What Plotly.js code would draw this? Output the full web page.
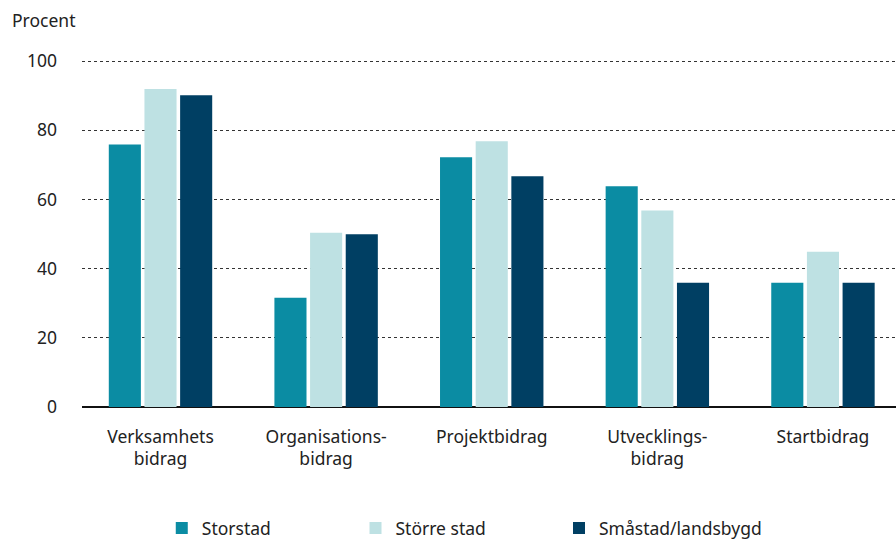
<!DOCTYPE html>
<html>
<head>
<meta charset="utf-8">
<script src="https://cdn.plot.ly/plotly-3.0.1.min.js"></script>
<style>html,body{margin:0;padding:0;background:#fff;}#chart{width:896px;height:540px;}</style>
</head>
<body>
<div id="chart"></div>
<script>
const categories = ["Verksamhets<br>bidrag", "Organisations-<br>bidrag", "Projektbidrag", "Utvecklings-<br>bidrag", "Startbidrag"];
const seriesNames = ["Storstad", "Större stad", "Småstad/landsbygd"];
const storstad = [75.9, 31.6, 72.2, 63.8, 35.9];
const storreStad = [91.9, 50.4, 76.8, 56.8, 44.9];
const smastad = [90.1, 49.9, 66.7, 35.9, 35.9];
const colors = ["#0b8ca3", "#bee1e3", "#003f63"];
const yTicks = [0, 20, 40, 60, 80, 100];

const fam = "Noto Sans, Open Sans, sans-serif";
const txt = "#222";
const vals = [storstad, storreStad, smastad];
const legendIds = ["legend", "legend2", "legend3"];
const legendX = [0.098, 0.336, 0.586];

const traces = vals.map((v, i) => ({
  type: "bar",
  name: seriesNames[i],
  x: categories.map((c, k) => k),
  y: v,
  marker: {color: colors[i]},
  legend: legendIds[i],
  hoverinfo: "y"
}));

const layout = {
  width: 896, height: 540,
  margin: {l: 82, r: 0, t: 60, b: 133},
  paper_bgcolor: "#fff", plot_bgcolor: "#fff",
  font: {family: fam, size: 17.5, color: txt},
  barmode: "group",
  bargap: 0.354,
  bargroupgap: 0.1,
  showlegend: true,
  xaxis: {
    range: [-0.474, 4.441],
    tickmode: "array",
    tickvals: categories.map((c, k) => k),
    ticktext: categories,
    showgrid: false, zeroline: false,
    showline: false, ticks: "", ticklabelstandoff: 17,
    tickfont: {family: fam, size: 17.5, color: txt}
  },
  yaxis: {
    range: [0, 100.3],
    tickmode: "array",
    tickvals: yTicks,
    ticktext: yTicks.map(String),
    showgrid: true, gridcolor: "#333", griddash: "dot", gridwidth: 1,
    zeroline: true, zerolinecolor: "#111", zerolinewidth: 2.5,
    showline: false, ticks: "", ticklabelstandoff: 24,
    tickfont: {family: fam, size: 17.5, color: txt}
  },
  annotations: [{
    text: "Procent", xref: "paper", yref: "paper", x: -0.089, y: 1.115,
    xanchor: "left", yanchor: "middle", showarrow: false,
    font: {family: fam, size: 17.5, color: txt}
  }]
};
legendIds.forEach((id, i) => {
  layout[id] = {orientation: "h", x: legendX[i], xanchor: "left",
                yref: "container", y: 0.022, yanchor: "middle",
                font: {family: fam, size: 17.5, color: txt}, bgcolor: "rgba(0,0,0,0)"};
});

Plotly.newPlot("chart", traces, layout, {displayModeBar: false, staticPlot: true});
</script>
</body>
</html>
